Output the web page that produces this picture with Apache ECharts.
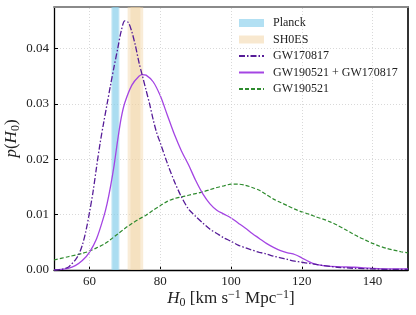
<!DOCTYPE html>
<html><head><meta charset="utf-8">
<script src="https://cdn.jsdelivr.net/npm/echarts@6/dist/echarts.min.js"></script>
<style>html,body{margin:0;padding:0;background:#fff}#c{width:416px;height:315px}</style>
</head><body><div id="c"></div>
<script>
// ---- data ----
const xTicks = [60, 80, 100, 120, 140];
const yGridTicks = [0.01, 0.02, 0.03, 0.04];
const planckBands = [[66.2, 68.5], [66.5, 68.2]];
const shoesBands = [[70.8, 75.2], [71.6, 74.4]];

const gw170817X = [50,52,54,55,56,57,58,59,60,61,62,63,64,65,66,67,68,69,70,71,72,73,74,75,76,77,78,79,80,82,84,86,88,90,92,94,96,98,100,102,105,108,110,112,114,116,118,120,122,124,126,130,135,140,145,150];
const gw170817Y = [0.0000,0.0001,0.0005,0.0011,0.0018,0.0028,0.0045,0.0070,0.0103,0.0140,0.0185,0.0228,0.0265,0.0300,0.0335,0.0368,0.0400,0.0432,0.0450,0.0447,0.0430,0.0405,0.0375,0.0350,0.0325,0.0300,0.0272,0.0248,0.0230,0.0193,0.0160,0.0132,0.0110,0.0097,0.0085,0.0074,0.0066,0.0058,0.0052,0.0045,0.0038,0.0032,0.0029,0.0025,0.0022,0.0019,0.0016,0.0014,0.0012,0.0010,0.0008,0.0005,0.0003,0.0002,0.0001,0.0001];

const combX = [50,52,54,56,58,60,62,64,65,66,67,68,69,70,72,74,75,76,78,80,82,84,86,88,90,92,94,96,98,100,102,104,106,108,110,112,114,116,118,120,122,124,126,130,135,140,145,150];
const combY = [0.0000,0.0001,0.0003,0.0008,0.0017,0.0032,0.0056,0.0095,0.0120,0.0152,0.0190,0.0235,0.0275,0.0302,0.0334,0.0350,0.0353,0.0352,0.0340,0.0315,0.0280,0.0245,0.0215,0.0190,0.0162,0.0138,0.0120,0.0108,0.0101,0.0094,0.0085,0.0076,0.0066,0.0057,0.0048,0.0041,0.0035,0.0031,0.0028,0.0022,0.0015,0.0010,0.0008,0.0006,0.0005,0.0003,0.0002,0.0002];

const gw190521X = [50,54,58,60,62,64,66,68,70,72,74,76,78,80,82,84,86,88,90,92,94,96,98,100,102,104,106,108,110,112,114,116,118,120,122,124,126,128,130,132,134,136,138,140,142,144,146,148,150];
const gw190521Y = [0.0018,0.0024,0.0030,0.0034,0.0040,0.0046,0.0055,0.0065,0.0075,0.0084,0.0092,0.0099,0.0108,0.0116,0.0124,0.0129,0.0132,0.0135,0.0138,0.0141,0.0145,0.0149,0.0152,0.0155,0.0155,0.0153,0.0149,0.0144,0.0136,0.0128,0.0122,0.0116,0.0110,0.0105,0.0101,0.0096,0.0092,0.0087,0.0081,0.0074,0.0067,0.0060,0.0054,0.0048,0.0043,0.0039,0.0036,0.0033,0.0031];

const zip = (xs, ys) => xs.map((x, i) => [x, ys[i]]);
const FONT = 'Liberation Serif';
const richStyles = {
  i: { fontStyle: 'italic', fontFamily: FONT, fontSize: 17, color: '#222' },
  n: { fontFamily: FONT, fontSize: 17, color: '#222' },
  sub: { fontFamily: FONT, fontSize: 12, color: '#222', padding: [8, 0, 0, 0] },
  sup: { fontFamily: FONT, fontSize: 12, color: '#222', padding: [0, 0, 8, 0] }
};
const hideSym = { opacity: 0 };

const chart = echarts.init(document.getElementById('c'), null, { renderer: 'canvas' });
chart.setOption({
  animation: false,
  backgroundColor: '#fff',
  grid: { left: 54, right: 8, top: 7, bottom: 45, outerBoundsMode: 'none', containLabel: false },
  legend: {
    left: 238, top: 17, orient: 'vertical', padding: 0,
    itemWidth: 25, itemHeight: 8, itemGap: 4.5,
    textStyle: { fontFamily: FONT, fontSize: 12, color: '#222', padding: [0, 0, 0, 4] },
    data: [
      { name: 'Planck', icon: 'rect' },
      { name: 'SH0ES', icon: 'rect' },
      { name: 'GW170817', itemStyle: hideSym },
      { name: 'GW190521 + GW170817', itemStyle: hideSym },
      { name: 'GW190521', itemStyle: hideSym }
    ]
  },
  xAxis: [{
    type: 'value', min: 50, max: 150,
    name: '{i|H}{sub|0}{n| [km s}{sup|−1}{n| Mpc}{sup|−1}{n|]}',
    nameLocation: 'middle', nameGap: 19, nameMoveOverlap: false,
    nameTextStyle: { rich: richStyles },
    axisLine: { lineStyle: { color: '#000', width: 1.3 } },
    axisTick: { show: true, inside: true, length: 4, customValues: xTicks, lineStyle: { color: '#000' } },
    axisLabel: { customValues: xTicks, margin: 5, fontFamily: FONT, fontSize: 13, color: '#222' },
    splitLine: { show: false }
  }, {
    type: 'value', min: 50, max: 150, position: 'top',
    axisLine: { show: true, onZero: false, lineStyle: { color: '#8a8a8a', width: 2 } },
    axisTick: { show: false }, axisLabel: { show: false }, splitLine: { show: false }
  }],
  yAxis: [{
    type: 'value', min: 0, max: 0.0475, interval: 0.01,
    name: '{i|p}{n|(}{i|H}{sub|0}{n|)}',
    nameLocation: 'middle', nameRotate: 90, nameGap: 32, nameMoveOverlap: false,
    nameTextStyle: { rich: richStyles },
    axisLine: { show: true, lineStyle: { color: '#000', width: 1.3 } },
    axisTick: { show: true, inside: true, length: 4, lineStyle: { color: '#000' } },
    axisLabel: { showMaxLabel: false, margin: 5, fontFamily: FONT, fontSize: 13, color: '#222',
      formatter: v => v.toFixed(2) },
    splitLine: { show: true, lineStyle: { color: '#cfcfcf', type: [1, 2], width: 0.8 } }
  }, {
    type: 'value', min: 0, max: 0.0475, position: 'right',
    axisLine: { show: true, onZero: false, lineStyle: { color: '#333', width: 2 } },
    axisTick: { show: false }, axisLabel: { show: false }, splitLine: { show: false }
  }],
  series: [
    {
      name: 'xgrid', type: 'line', data: [], silent: true, z: 0,
      markLine: {
        silent: true, symbol: 'none', label: { show: false },
        lineStyle: { color: '#cfcfcf', type: [1, 2], width: 0.8 },
        data: xTicks.map(v => ({ xAxis: v }))
      }
    },
    {
      name: 'Planck', type: 'bar', data: [], itemStyle: { color: '#b2e0f3' }, z: 1,
      markArea: {
        silent: true,
        itemStyle: { color: 'rgba(135,206,235,0.45)' },
        data: planckBands.map(b => [{ xAxis: b[0] }, { xAxis: b[1] }])
      }
    },
    {
      name: 'SH0ES', type: 'bar', data: [], itemStyle: { color: '#f8e8cf' }, z: 1,
      markArea: {
        silent: true,
        itemStyle: { color: 'rgba(240,210,160,0.42)' },
        data: shoesBands.map(b => [{ xAxis: b[0] }, { xAxis: b[1] }])
      }
    },
    {
      name: 'GW190521', type: 'line', data: zip(gw190521X, gw190521Y), showSymbol: false, symbol: 'none',
      smooth: 0.3, z: 3, lineStyle: { color: '#2e8b2e', width: 1.2, type: [4, 2] }, itemStyle: { color: '#2e8b2e' }
    },
    {
      name: 'GW190521 + GW170817', type: 'line', data: zip(combX, combY), showSymbol: false, symbol: 'none',
      smooth: 0.3, z: 4, lineStyle: { color: '#a445e3', width: 1.3 }, itemStyle: { color: '#a445e3' }
    },
    {
      name: 'GW170817', type: 'line', data: zip(gw170817X, gw170817Y), showSymbol: false, symbol: 'none',
      smooth: 0.3, z: 5, lineStyle: { color: '#561c98', width: 1.3, type: [6, 2, 1.5, 2] }, itemStyle: { color: '#561c98' }
    }
  ]
});
</script></body></html>
